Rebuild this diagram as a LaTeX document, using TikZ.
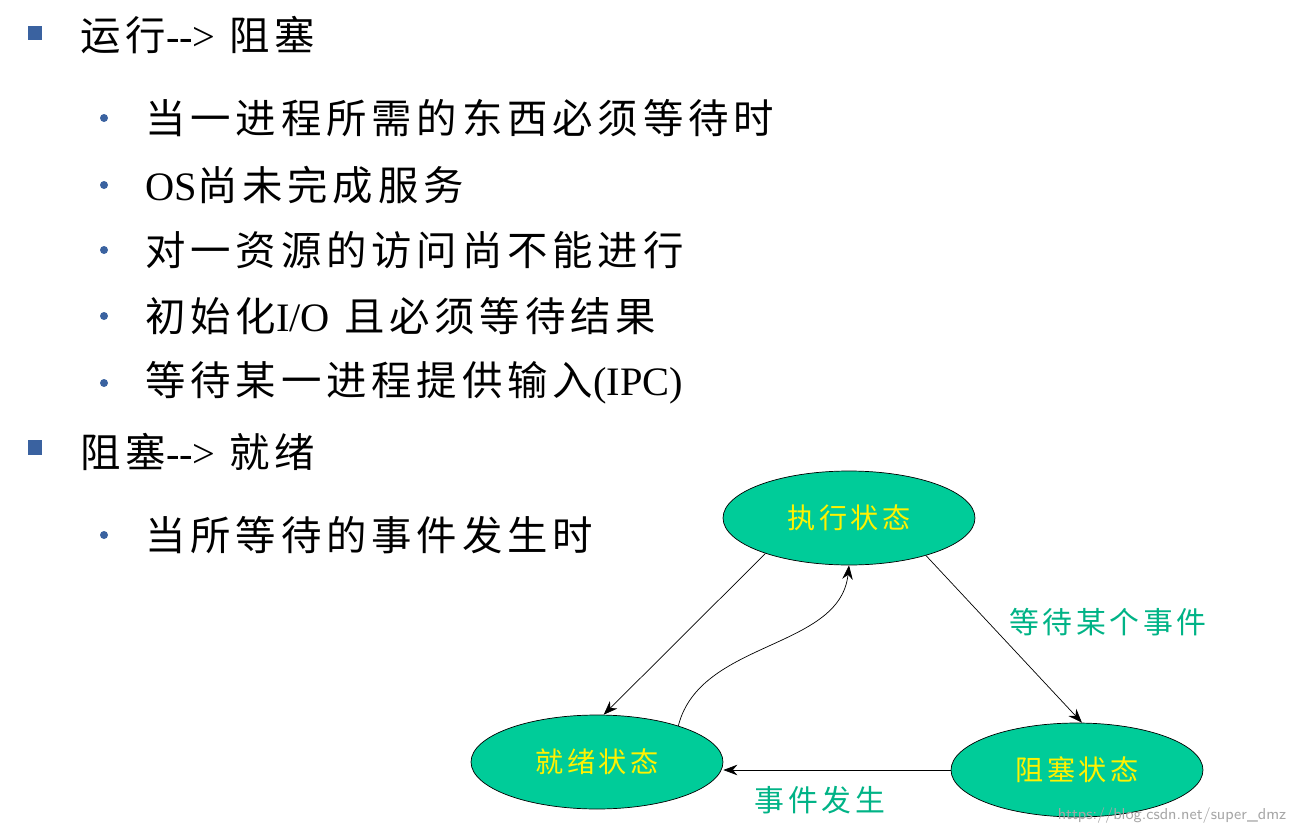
\documentclass[tikz,border=0pt]{standalone}
\usepackage{fontspec}
\setmainfont{Liberation Serif}
\newfontfamily\cjk[LetterSpace=12]{Noto Sans CJK SC}
\usetikzlibrary{arrows.meta,shapes.geometric}
\definecolor{bl}{HTML}{3A62A0}
\definecolor{st}{HTML}{00CC99}
\definecolor{lb}{HTML}{00B386}
\begin{document}
\begin{tikzpicture}[x=0.02cm,y=-0.02cm,
  sq/.style={fill=bl,minimum size=0.3cm,inner sep=0},
  dt/.style={circle,fill=bl,minimum size=0.16cm,inner sep=0},
  txt/.style={anchor=west,inner sep=0,font=\fontsize{23}{26}\selectfont\cjk},
  stt/.style={ellipse,draw,fill=st,minimum width=5.04cm,minimum height=1.88cm,font=\fontsize{16}{20}\selectfont\cjk,text=yellow},
  ar/.style={-{Stealth[length=8pt]},thin},
  lab/.style={font=\fontsize{17}{20}\selectfont\cjk,text=lb}]
\useasboundingbox (0,0) rectangle (1295,835);
\node[sq] (b1) at (35,33) {};
\node[txt] (t1) at (80,35) {运行{\rmfamily -{}->} 阻塞};
\foreach \y/\t [count=\i] in {118/当一进程所需的东西必须等待时,185/{{\rmfamily OS}尚未完成服务},250/对一资源的访问尚不能进行,316/{初始化{\rmfamily I/O} 且必须等待结果},383/{等待某一进程提供输入{\rmfamily(IPC)}},535/当所等待的事件发生时}{
  \node[dt] (d\i) at (104,\y) {};
  \node[txt] (s\i) at (145,\y) {\t};
}
\node[sq] (b2) at (35,447) {};
\node[txt] (t2) at (80,452) {阻塞{\rmfamily -{}->} 就绪};
\node[stt] (run) at (849,518) {执行状态};
\node[stt] (rdy) at (597,762) {就绪状态};
\node[stt] (blk) at (1077,770) {阻塞状态};
\draw[ar] (run.203) -- (rdy.82);
\draw[ar] (run.334) -- (blk.84);
\draw[ar] (blk.west) -- (rdy.east |- blk.west);
\draw[ar] (rdy.24) .. controls (700,640) and (840,650) .. (run.south);
\node[lab] (l1) at (1108,622) {等待某个事件};
\node[lab] (l2) at (820,800) {事件发生};
\node[font=\fontsize{9}{10}\selectfont\sffamily,text=gray!70] (w) at (1172,816) {https://blog.csdn.net/super\_dmz};
\end{tikzpicture}
\end{document}
